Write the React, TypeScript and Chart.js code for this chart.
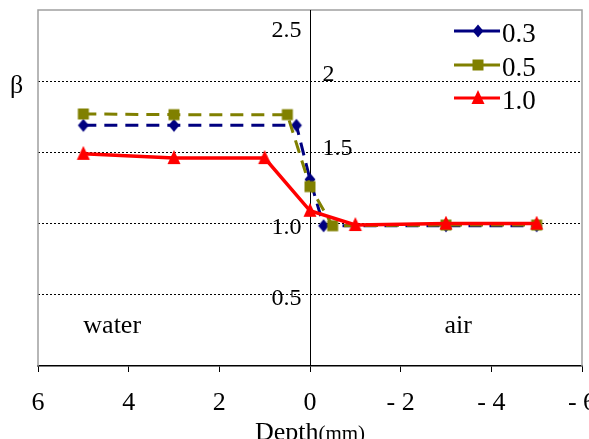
import React, { useEffect, useRef } from "react";
import { Chart, registerables } from "chart.js";

Chart.register(...registerables);

// ---- data ----
const seriesNames = ["0.3", "0.5", "1.0"];
const depth03 = [5, 3, 0.3, 0, -0.3, -3, -5];
const beta03 = [1.69, 1.69, 1.69, 1.31, 0.985, 0.985, 0.985];
const depth05 = [5, 3, 0.5, 0, -0.5, -3, -5];
const beta05 = [1.77, 1.765, 1.765, 1.26, 0.985, 0.99, 0.99];
const depth10 = [5, 3, 1, 0, -1, -3, -5];
const beta10 = [1.49, 1.46, 1.46, 1.09, 0.99, 1.0, 1.0];
const xTickValues = [6, 4, 2, 0, -2, -4, -6];
const xTickLabels = ["6", "4", "2", "0", "- 2", "- 4", "- 6"];
const yTickValues = [0.5, 1.0, 1.5, 2.0, 2.5];
const yTickLabels = ["0.5", "1.0", "1.5", "2", "2.5"];
const regionLabels = ["water", "air"];
const axisTitleMain = "Depth";
const axisTitleUnit = "(mm)";
const yAxisTitle = "β";

const SERIF = "'Liberation Serif', 'Times New Roman', serif";

// placement styles (not data)
const yLabelPlacement = [
  { side: "left", dy: 10 },
  { side: "left", dy: 10 },
  { side: "right", dy: 2.5 },
  { side: "right", dy: 0 },
  { side: "left", dy: 26.5 },
];
const regionPlacement = [
  { x: 5, y: 0.235, align: "left" },
  { x: -3.27, y: 0.235, align: "center" },
];

function drawMarker(ctx: CanvasRenderingContext2D, style: string, x: number, y: number, color: string) {
  ctx.fillStyle = color;
  ctx.beginPath();
  if (style === "diamond") {
    ctx.moveTo(x, y - 6.5);
    ctx.lineTo(x + 5.5, y);
    ctx.lineTo(x, y + 6.5);
    ctx.lineTo(x - 5.5, y);
  } else if (style === "square") {
    ctx.rect(x - 5.5, y - 5.5, 11, 11);
  } else {
    ctx.moveTo(x, y - 8);
    ctx.lineTo(x + 6.5, y + 6);
    ctx.lineTo(x - 6.5, y + 6);
  }
  ctx.closePath();
  ctx.fill();
}

function makeMarker(style: string, color: string) {
  const c = document.createElement("canvas");
  c.width = 16;
  c.height = 16;
  const g = c.getContext("2d")!;
  drawMarker(g, style, 8, 8, color);
  return c;
}

const markerStyles = ["diamond", "square", "triangle"];

const decorPlugin = {
  id: "decor",
  beforeDatasetsDraw(chart: any) {
    const { ctx, chartArea: a, scales } = chart;
    const xs = scales.x;
    const ys = scales.y;
    ctx.save();
    ctx.strokeStyle = "#a0a0a0";
    ctx.lineWidth = 1.5;
    ctx.beginPath();
    ctx.moveTo(a.left, a.bottom);
    ctx.lineTo(a.left, a.top);
    ctx.lineTo(a.right, a.top);
    ctx.lineTo(a.right, a.bottom);
    ctx.stroke();
    const x0 = Math.round(xs.getPixelForValue(0)) + 0.5;
    ctx.strokeStyle = "#000";
    ctx.lineWidth = 1;
    ctx.beginPath();
    ctx.moveTo(x0, a.top);
    ctx.lineTo(x0, a.bottom);
    ctx.stroke();
    ctx.font = `24px ${SERIF}`;
    ctx.fillStyle = "#000";
    ctx.textBaseline = "alphabetic";
    yTickValues.forEach((v, i) => {
      const p = yLabelPlacement[i];
      const py = ys.getPixelForValue(v) + p.dy;
      if (p.side === "left") {
        ctx.textAlign = "right";
        ctx.fillText(yTickLabels[i], x0 - 9, py);
      } else {
        ctx.textAlign = "left";
        ctx.fillText(yTickLabels[i], x0 + 12, py);
      }
    });
    ctx.restore();
  },
  afterDraw(chart: any) {
    const { ctx, scales } = chart;
    const xs = scales.x;
    const ys = scales.y;
    ctx.save();
    ctx.fillStyle = "#000";
    ctx.textBaseline = "alphabetic";
    ctx.font = `26px ${SERIF}`;
    regionLabels.forEach((t, i) => {
      const p = regionPlacement[i];
      ctx.textAlign = p.align as CanvasTextAlign;
      ctx.fillText(t, xs.getPixelForValue(p.x), ys.getPixelForValue(p.y));
    });
    ctx.font = `26px ${SERIF}`;
    ctx.textAlign = "left";
    ctx.fillText(yAxisTitle, 10, 93);
    const x0 = xs.getPixelForValue(0);
    ctx.font = `26px ${SERIF}`;
    const w1 = ctx.measureText(axisTitleMain).width;
    ctx.font = `21px ${SERIF}`;
    const w2 = ctx.measureText(axisTitleUnit).width;
    const start = x0 - (w1 + w2) / 2;
    ctx.font = `26px ${SERIF}`;
    ctx.fillText(axisTitleMain, start, 440);
    ctx.font = `21px ${SERIF}`;
    ctx.fillText(axisTitleUnit, start + w1, 440);
    const rows = [31, 65, 98];
    chart.data.datasets.forEach((ds: any, i: number) => {
      const y = rows[i];
      ctx.strokeStyle = ds.borderColor;
      ctx.lineWidth = 3;
      ctx.setLineDash([]);
      ctx.beginPath();
      ctx.moveTo(454, y);
      ctx.lineTo(500, y);
      ctx.stroke();
      drawMarker(ctx, markerStyles[i], 478, y, ds.borderColor);
      ctx.fillStyle = "#000";
      ctx.font = `27px ${SERIF}`;
      ctx.textAlign = "left";
      ctx.fillText(ds.label, 502, y + 11);
    });
    ctx.restore();
  },
};

export default function App() {
  const ref = useRef<HTMLCanvasElement | null>(null);
  useEffect(() => {
    document.body.style.margin = "0";
    if (!ref.current) return;
    const colors = ["#000080", "#808000", "#ff0000"];
    const chart = new Chart(ref.current, {
      type: "line",
      data: {
        datasets: [
          {
            label: seriesNames[0],
            data: depth03.map((x, i) => ({ x, y: beta03[i] })),
            borderColor: colors[0],
            backgroundColor: colors[0],
            borderWidth: 3,
            borderDash: [13, 8],
            pointStyle: makeMarker(markerStyles[0], colors[0]),
            order: 3,
            tension: 0,
          },
          {
            label: seriesNames[1],
            data: depth05.map((x, i) => ({ x, y: beta05[i] })),
            borderColor: colors[1],
            backgroundColor: colors[1],
            borderWidth: 3,
            borderDash: [13, 8],
            pointStyle: makeMarker(markerStyles[1], colors[1]),
            order: 2,
            tension: 0,
          },
          {
            label: seriesNames[2],
            data: depth10.map((x, i) => ({ x, y: beta10[i] })),
            borderColor: colors[2],
            backgroundColor: colors[2],
            borderWidth: 3.5,
            pointStyle: makeMarker(markerStyles[2], colors[2]),
            order: 1,
            tension: 0,
          },
        ],
      },
      options: {
        responsive: false,
        animation: false,
        layout: { autoPadding: false, padding: { left: 38, right: 7, top: 10, bottom: 0 } },
        plugins: { legend: { display: false }, tooltip: { enabled: false } },
        scales: {
          x: {
            type: "linear",
            reverse: true,
            min: -6,
            max: 6,
            afterFit: (s: any) => {
              s.height = 73;
              s.paddingLeft = 0;
              s.paddingRight = 0;
            },
            border: { display: true, color: "#000", width: 1.5 },
            grid: { drawOnChartArea: false, drawTicks: true, tickLength: 6, color: "#000", lineWidth: 1 },
            afterBuildTicks: (s: any) => {
              s.ticks = xTickValues.map((v) => ({ value: v }));
            },
            ticks: {
              padding: 16,
              maxRotation: 0,
              autoSkip: false,
              color: "#000",
              font: { family: SERIF, size: 26 },
              callback: (v: any) => {
                const i = xTickValues.indexOf(Number(v));
                return i >= 0 ? xTickLabels[i] : "";
              },
            },
          },
          y: {
            type: "linear",
            min: 0,
            max: 2.5,
            afterFit: (s: any) => {
              s.width = 0;
              s.paddingTop = 0;
              s.paddingBottom = 0;
            },
            border: { display: false, dash: [2, 2] },
            afterBuildTicks: (s: any) => {
              s.ticks = [0, ...yTickValues].map((v) => ({ value: v }));
            },
            grid: {
              drawTicks: false,
              color: (c: any) => (c.tick && (c.tick.value === 0 || c.tick.value === 2.5) ? "rgba(0,0,0,0)" : "#000"),
              lineWidth: 1,
            },
            ticks: { display: false },
          },
        },
      },
      plugins: [decorPlugin],
    } as any);
    return () => chart.destroy();
  }, []);
  return (
    <div style={{ position: "fixed", left: 0, top: 0, width: 589, height: 439, background: "#fff" }}>
      <canvas ref={ref} width={589} height={439} />
    </div>
  );
}
